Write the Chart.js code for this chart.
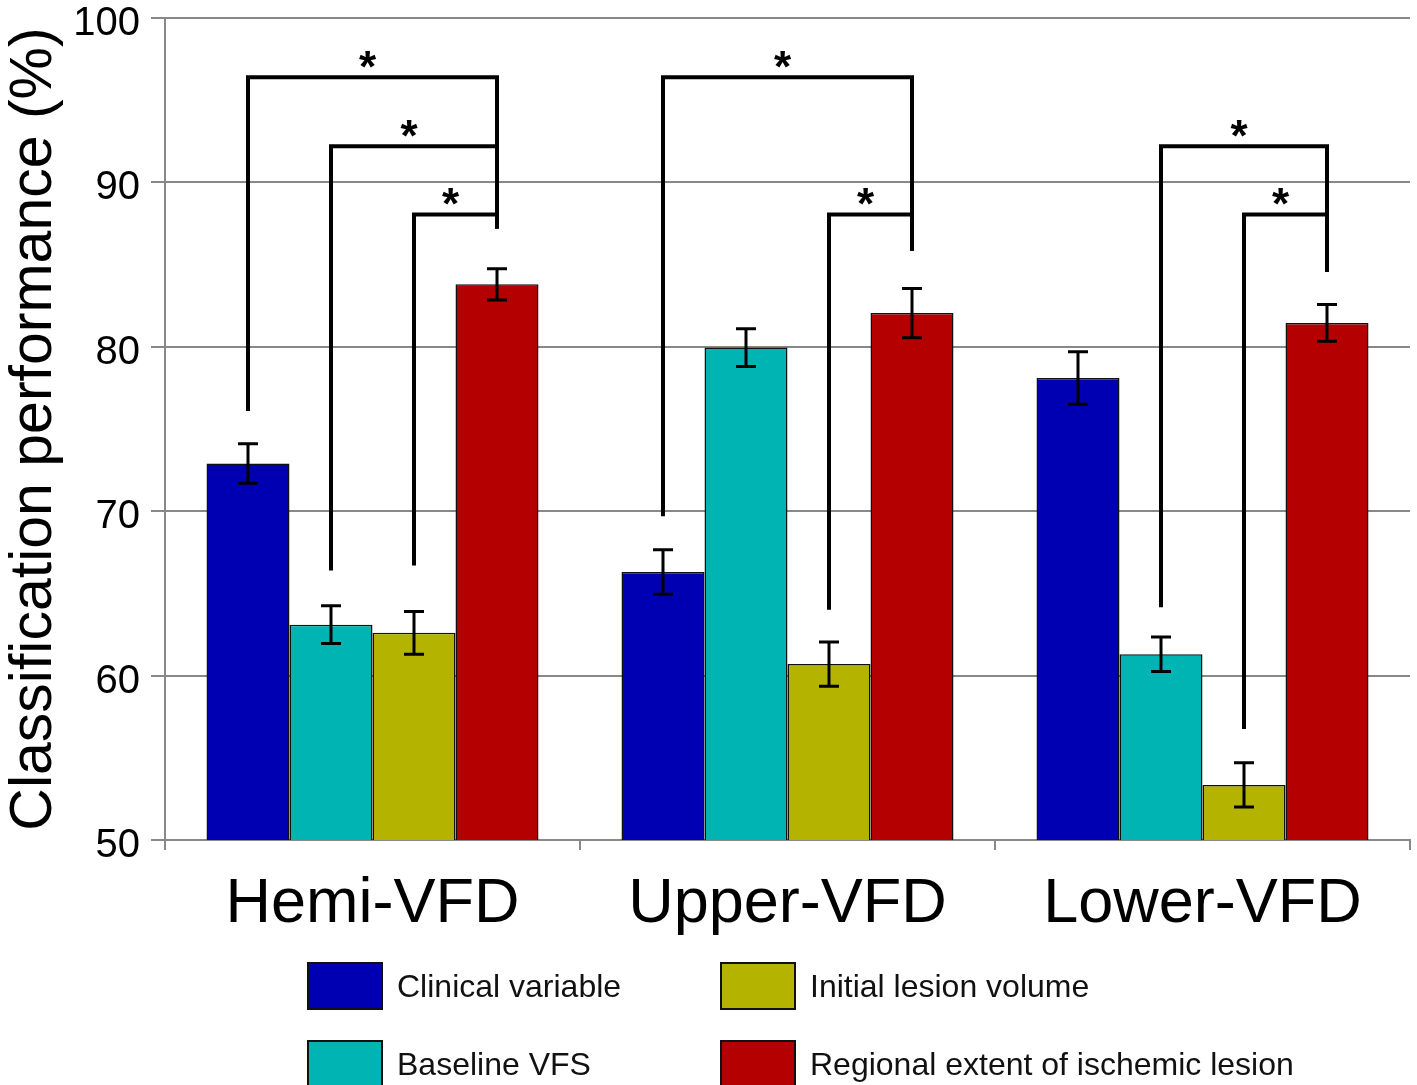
<!DOCTYPE html>
<html>
<head>
<meta charset="utf-8">
<script src="https://cdn.jsdelivr.net/npm/chart.js@4.4.0/dist/chart.umd.min.js"></script>
<style>
    body { margin: 0; background: #fff; }
    #wrap { position: relative; width: 1417px; height: 1085px; overflow: hidden; }
    .legend-item { position: absolute; display: flex; align-items: center; font-family: 'Liberation Sans', Arial, sans-serif; font-size: 32px; color: #111; letter-spacing: 0px; }
    .legend-box { width: 72px; height: 44px; border: 2px solid #111; margin-right: 14px; box-sizing: content-box; }
</style>
</head>
<body>
<div id="wrap">
    <canvas id="perfChart" width="1417" height="1085"></canvas>
</div>
<script>
const categories = ['Hemi-VFD', 'Upper-VFD', 'Lower-VFD'];
const seriesNames = ['Clinical variable', 'Baseline VFS', 'Initial lesion volume', 'Regional extent of ischemic lesion'];
const seriesColors = ['#0000b2', '#00b4b4', '#b4b400', '#b40000'];

// mean values (%)
const clinicalVariable = [72.9, 66.3, 78.1];
const baselineVFS = [63.1, 79.95, 61.3];
const initialLesionVolume = [62.6, 60.7, 53.35];
const regionalExtent = [83.8, 82.05, 81.45];

// error bar half-lengths
const clinicalErr = [1.2, 1.35, 1.6];
const baselineErr = [1.15, 1.15, 1.05];
const lesionVolErr = [1.3, 1.35, 1.35];
const regionalErr = [0.95, 1.5, 1.12];

const yTicks = [50, 60, 70, 80, 90, 100];

// significance brackets: group, left series, right series, bar level, left leg end, right leg end
const brackets = [
    { group: 0, from: 0, to: 3, level: 96.4, fromEnd: 76.1, toEnd: 87.2 },
    { group: 0, from: 1, to: 3, level: 92.2, fromEnd: 66.4, toEnd: 87.2 },
    { group: 0, from: 2, to: 3, level: 88.05, fromEnd: 66.7, toEnd: 87.2 },
    { group: 1, from: 0, to: 3, level: 96.4, fromEnd: 69.7, toEnd: 85.85 },
    { group: 1, from: 2, to: 3, level: 88.05, fromEnd: 64.0, toEnd: 85.85 },
    { group: 2, from: 1, to: 3, level: 92.2, fromEnd: 64.15, toEnd: 84.55 },
    { group: 2, from: 2, to: 3, level: 88.05, fromEnd: 56.75, toEnd: 84.55 }
];

const seriesValues = [clinicalVariable, baselineVFS, initialLesionVolume, regionalExtent];
const seriesErrors = [clinicalErr, baselineErr, lesionVolErr, regionalErr];

const overlayPlugin = {
    id: 'overlay',
    afterDatasetsDraw(chart) {
        const ctx = chart.ctx;
        const y = chart.scales.y;
        ctx.save();
        ctx.strokeStyle = '#000';
        ctx.lineCap = 'butt';

        // error bars
        ctx.lineWidth = 3;
        seriesErrors.forEach(function (errs, i) {
            const meta = chart.getDatasetMeta(i);
            errs.forEach(function (e, j) {
                const x = meta.data[j].x;
                const v = seriesValues[i][j];
                const top = y.getPixelForValue(v + e);
                const bot = y.getPixelForValue(v - e);
                ctx.beginPath();
                ctx.moveTo(x, top); ctx.lineTo(x, bot);
                ctx.moveTo(x - 10, top); ctx.lineTo(x + 10, top);
                ctx.moveTo(x - 10, bot); ctx.lineTo(x + 10, bot);
                ctx.stroke();
            });
        });

        // brackets
        ctx.lineWidth = 4;
        ctx.lineJoin = 'miter';
        ctx.fillStyle = '#000';
        ctx.font = 'bold 44px "Liberation Sans", Arial, sans-serif';
        ctx.textAlign = 'center';
        ctx.textBaseline = 'alphabetic';
        brackets.forEach(function (b) {
            const x1 = chart.getDatasetMeta(b.from).data[b.group].x;
            const x2 = chart.getDatasetMeta(b.to).data[b.group].x;
            const yl = y.getPixelForValue(b.level);
            ctx.beginPath();
            ctx.moveTo(x1, y.getPixelForValue(b.fromEnd));
            ctx.lineTo(x1, yl);
            ctx.lineTo(x2, yl);
            ctx.lineTo(x2, y.getPixelForValue(b.toEnd));
            ctx.stroke();
            ctx.fillText('*', (x1 + x2) / 2 - 5, yl + 5);
        });
        ctx.restore();
    }
};

const ctx = document.getElementById('perfChart').getContext('2d');
const perfChart = new Chart(ctx, {
    type: 'bar',
    data: {
        labels: categories,
        datasets: seriesNames.map(function (name, i) {
            return {
                label: name,
                data: seriesValues[i],
                backgroundColor: seriesColors[i],
                borderColor: '#111',
                borderWidth: 1.5,
                categoryPercentage: 0.8,
                barPercentage: 1.0
            };
        })
    },
    options: {
        responsive: false,
        animation: false,
        layout: { padding: { left: 0, top: 18, right: 7, bottom: 145 } },
        plugins: {
            legend: { display: false },
            tooltip: { enabled: false }
        },
        scales: {
            x: {
                grid: {
                    display: true,
                    drawOnChartArea: false,
                    offset: true,
                    color: '#888',
                    lineWidth: 2,
                    tickLength: 10
                },
                border: { display: true, color: '#888', width: 2 },
                ticks: {
                    color: '#000',
                    padding: 23,
                    font: { family: "'Liberation Sans', Arial, sans-serif", size: 63, lineHeight: 1.0 }
                },
                afterFit: function (scale) {
                    scale.height = 100;
                    scale.paddingLeft = 0;
                    scale.paddingRight = 0;
                }
            },
            y: {
                min: 50,
                max: 100,
                afterBuildTicks: function (scale) {
                    scale.ticks = yTicks.map(function (v) { return { value: v }; });
                },
                grid: {
                    color: '#888',
                    lineWidth: 2,
                    tickLength: 14
                },
                border: { display: true, color: '#888', width: 2 },
                ticks: {
                    color: '#000',
                    padding: 11,
                    labelOffset: 6,
                    font: { family: "'Liberation Sans', Arial, sans-serif", size: 40 }
                },
                title: {
                    display: true,
                    text: 'Classification performance (%)',
                    color: '#000',
                    padding: { top: 5, bottom: 0 },
                    font: { family: "'Liberation Sans', Arial, sans-serif", size: 59, lineHeight: 1.0 }
                },
                afterFit: function (scale) {
                    scale.width = 165;
                    scale.paddingTop = 0;
                    scale.paddingBottom = 0;
                }
            }
        }
    },
    plugins: [overlayPlugin]
});

// legend, two columns
const legendSpots = [[307, 962], [307, 1040], [720, 962], [720, 1040]];
const wrap = document.getElementById('wrap');
seriesNames.forEach(function (name, i) {
    const item = document.createElement('div');
    item.className = 'legend-item';
    item.style.left = legendSpots[i][0] + 'px';
    item.style.top = legendSpots[i][1] + 'px';
    const box = document.createElement('div');
    box.className = 'legend-box';
    box.style.background = seriesColors[i];
    const txt = document.createElement('span');
    txt.textContent = name;
    item.appendChild(box);
    item.appendChild(txt);
    wrap.appendChild(item);
});
</script>
</body>
</html>
